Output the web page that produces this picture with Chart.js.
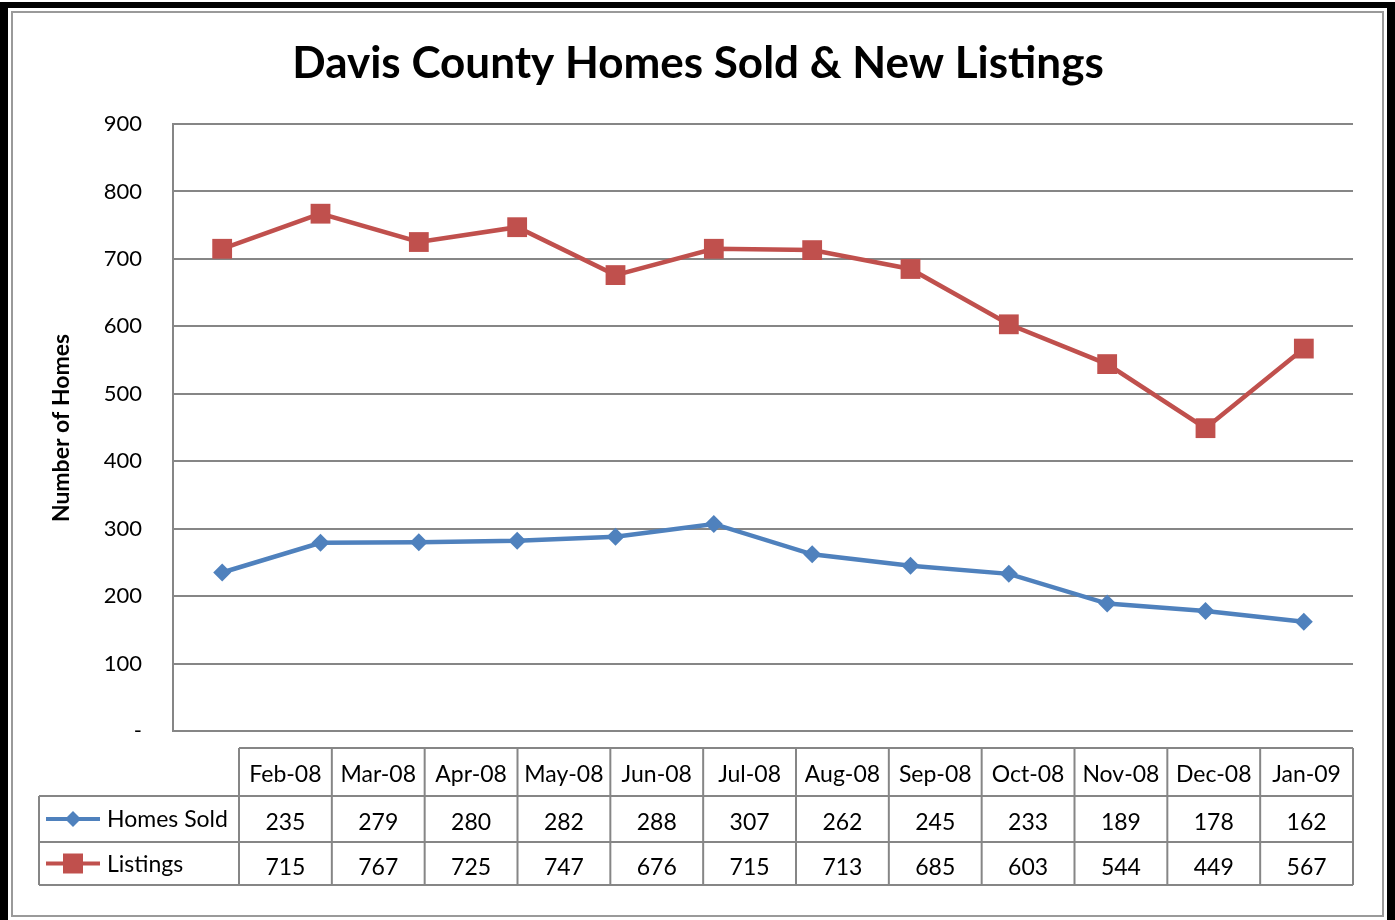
<!DOCTYPE html>
<html>
<head>
<meta charset="utf-8">
<script src="https://cdn.jsdelivr.net/npm/chart.js@4.4.0/dist/chart.umd.min.js"></script>
<style>
  html, body { margin: 0; padding: 0; background: #fff; }
  #wrap { width: 1395px; height: 920px; }
</style>
</head>
<body>
<div id="wrap"><canvas id="lineChart" width="1395" height="920"></canvas></div>
<script>
// data
var months = ['Feb-08', 'Mar-08', 'Apr-08', 'May-08', 'Jun-08', 'Jul-08', 'Aug-08', 'Sep-08', 'Oct-08', 'Nov-08', 'Dec-08', 'Jan-09'];
var homesSold = [235, 279, 280, 282, 288, 307, 262, 245, 233, 189, 178, 162];
var listings = [715, 767, 725, 747, 676, 715, 713, 685, 603, 544, 449, 567];
var yTicks = [0, 100, 200, 300, 400, 500, 600, 700, 800, 900];

var FONT = 'Lato, "Open Sans", sans-serif';
var BLUE = '#4F81BD';
var RED = '#C0504D';
var GRID = '#868686';

// frame + title + y title
var framePlugin = {
  id: 'frame',
  beforeDraw: function (chart) {
    var c = chart.ctx;
    c.save();
    c.fillStyle = '#fff';
    c.fillRect(0, 0, chart.width, chart.height);
    c.fillStyle = '#000';
    c.fillRect(0, 2, 8, chart.height);
    c.fillRect(0, 2, 1395, 6);
    c.fillRect(1387, 2, 8, chart.height);
    c.strokeStyle = '#9a9a9a';
    c.lineWidth = 2;
    c.strokeRect(12, 12, 1371, 904);
    c.restore();
  },
  afterDraw: function (chart) {
    var c = chart.ctx;
    c.save();
    c.fillStyle = '#000';
    c.textAlign = 'center';
    c.textBaseline = 'middle';
    c.font = 'bold 44px ' + FONT;
    c.fillText('Davis County Homes Sold & New Listings', 698, 64);
    c.translate(62, 428);
    c.rotate(-Math.PI / 2);
    c.font = 'bold 23px ' + FONT;
    c.fillText('Number of Homes', 0, 0);
    c.restore();
  }
};

// data table under the plot
var tablePlugin = {
  id: 'dataTable',
  afterDraw: function (chart) {
    var c = chart.ctx;
    var right = chart.chartArea.right;
    var legL = 39, colL = 239;
    var yTop = 748, yHead = 796, yR1 = 842, yR2 = 885;
    var colW = (right - colL) / months.length;
    c.save();
    c.strokeStyle = GRID;
    c.lineWidth = 2;
    c.beginPath();
    c.moveTo(colL, yTop); c.lineTo(right, yTop);
    c.moveTo(legL, yHead); c.lineTo(right, yHead);
    c.moveTo(legL, yR1); c.lineTo(right, yR1);
    c.moveTo(legL, yR2); c.lineTo(right, yR2);
    c.moveTo(legL, yHead); c.lineTo(legL, yR2);
    for (var i = 0; i <= months.length; i++) {
      var x = colL + i * colW;
      c.moveTo(x, yTop); c.lineTo(x, yR2);
    }
    c.stroke();

    c.fillStyle = '#000';
    c.font = '23px ' + FONT;
    c.textAlign = 'center';
    c.textBaseline = 'middle';
    for (var j = 0; j < months.length; j++) {
      var cx = colL + (j + 0.5) * colW;
      c.fillText(months[j], cx, (yTop + yHead) / 2 + 3);
      c.fillText(String(homesSold[j]), cx, (yHead + yR1) / 2 + 4);
      c.fillText(String(listings[j]), cx, (yR1 + yR2) / 2 + 4);
    }

    // legend keys
    var rows = [
      { label: chart.data.datasets[0].label, color: BLUE, shape: 'diamond', y: (yHead + yR1) / 2 },
      { label: chart.data.datasets[1].label, color: RED, shape: 'square', y: (yR1 + yR2) / 2 }
    ];
    rows.forEach(function (r) {
      c.strokeStyle = r.color;
      c.fillStyle = r.color;
      c.lineWidth = 4;
      c.beginPath();
      c.moveTo(46, r.y); c.lineTo(100, r.y);
      c.stroke();
      c.beginPath();
      if (r.shape === 'diamond') {
        c.moveTo(73, r.y - 8); c.lineTo(81, r.y); c.lineTo(73, r.y + 8); c.lineTo(65, r.y);
        c.closePath();
      } else {
        c.rect(63, r.y - 10, 20, 20);
      }
      c.fill();
      c.fillStyle = '#000';
      c.textAlign = 'left';
      c.fillText(r.label, 107, r.y + 1);
    });
    c.restore();
  }
};

var ctxLine = document.getElementById('lineChart').getContext('2d');
var lineChart = new Chart(ctxLine, {
  type: 'line',
  data: {
    labels: months,
    datasets: [{
      label: 'Homes Sold',
      data: homesSold,
      borderColor: BLUE,
      backgroundColor: BLUE,
      borderWidth: 4.5,
      pointStyle: 'rectRot',
      pointRadius: 9,
      pointBorderWidth: 0,
      tension: 0
    }, {
      label: 'Listings',
      data: listings,
      borderColor: RED,
      backgroundColor: RED,
      borderWidth: 4.5,
      pointStyle: 'rect',
      pointRadius: 14,
      pointBorderWidth: 0,
      tension: 0
    }]
  },
  options: {
    responsive: false,
    animation: false,
    layout: { padding: { left: 0, right: 42, top: 124, bottom: 189 } },
    plugins: {
      legend: { display: false },
      title: { display: false },
      tooltip: { enabled: false }
    },
    scales: {
      x: {
        display: false,
        offset: true
      },
      y: {
        min: 0,
        max: 900,
        afterFit: function (s) { s.width = 173; },
        afterBuildTicks: function (s) { s.ticks = yTicks.map(function (v) { return { value: v }; }); },
        grid: { color: GRID, lineWidth: 2, drawTicks: false },
        border: { color: GRID, width: 2 },
        ticks: {
          padding: 31,
          color: '#000',
          font: { family: FONT, size: 22 },
          callback: function (v) { return v === 0 ? '-' : v; }
        }
      }
    }
  },
  plugins: [framePlugin, tablePlugin]
});
</script>
</body>
</html>
